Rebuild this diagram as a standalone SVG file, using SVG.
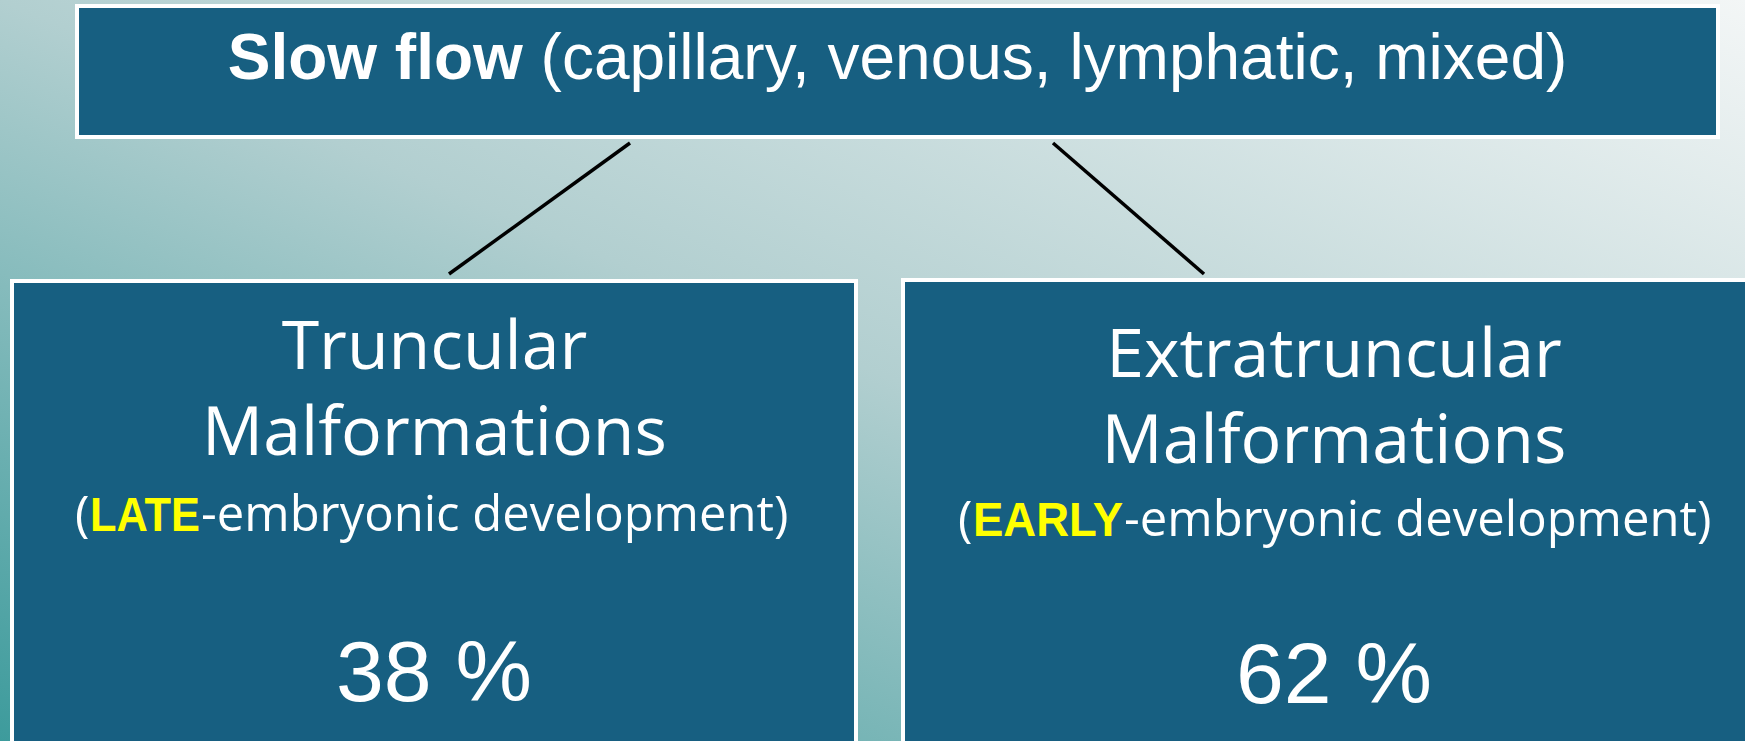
<svg xmlns="http://www.w3.org/2000/svg" width="1745" height="741" viewBox="0 0 1745 741">
<defs>
<linearGradient id="bg" x1="0" y1="1" x2="1" y2="0">
<stop offset="0" stop-color="#3d9b9c"/>
<stop offset="0.5" stop-color="#b2cfd0"/>
<stop offset="1" stop-color="#f3f6f6"/>
</linearGradient>
<style>
.box{fill:#175f81;stroke:#ffffff;stroke-width:4}
.conn{stroke:#000000;stroke-width:3.5;fill:none}
.hdr{font-family:"Liberation Sans",Arial,sans-serif;font-size:64px;fill:#ffffff}
.ttl{font-family:"Open Sans","Noto Sans",sans-serif;font-size:68px;fill:#ffffff}
.sub{font-family:"Open Sans","Noto Sans",sans-serif;font-size:49px;fill:#ffffff}
.hl{font-family:"Liberation Sans",Arial,sans-serif;font-weight:bold;fill:#ffff00}
.pct{font-family:"Liberation Sans",Arial,sans-serif;font-size:86px;fill:#ffffff}
</style>
</defs>
<rect x="0" y="0" width="1745" height="741" fill="url(#bg)"/>
<g id="connectors">
<line class="conn" x1="630" y1="143" x2="449" y2="274"/>
<line class="conn" x1="1053" y1="143" x2="1204" y2="274"/>
</g>
<g id="slow-flow">
<rect class="box" x="77" y="6" width="1641" height="131"/>
<text class="hdr" x="897.5" y="79" text-anchor="middle"><tspan font-weight="bold">Slow flow</tspan> (capillary, venous, lymphatic, mixed)</text>
</g>
<g id="truncular">
<rect class="box" x="12" y="281" width="844" height="500"/>
<text class="ttl" x="434.5" y="369" text-anchor="middle">Truncular</text>
<text class="ttl" x="434.5" y="455" text-anchor="middle">Malformations</text>
<text class="sub" y="531"><tspan x="75">(</tspan><tspan class="hl" x="90" textLength="110" lengthAdjust="spacingAndGlyphs">LATE</tspan><tspan x="201">-embryonic development)</tspan></text>
<text class="pct" x="434" y="701" text-anchor="middle">38 %</text>
</g>
<g id="extratruncular">
<rect class="box" x="903" y="280" width="880" height="500"/>
<text class="ttl" x="1334" y="377" text-anchor="middle">Extratruncular</text>
<text class="ttl" x="1334" y="463" text-anchor="middle">Malformations</text>
<text class="sub" y="536"><tspan x="958">(</tspan><tspan class="hl" x="973" textLength="150" lengthAdjust="spacingAndGlyphs">EARLY</tspan><tspan x="1124">-embryonic development)</tspan></text>
<text class="pct" x="1334" y="703" text-anchor="middle">62 %</text>
</g>
</svg>
